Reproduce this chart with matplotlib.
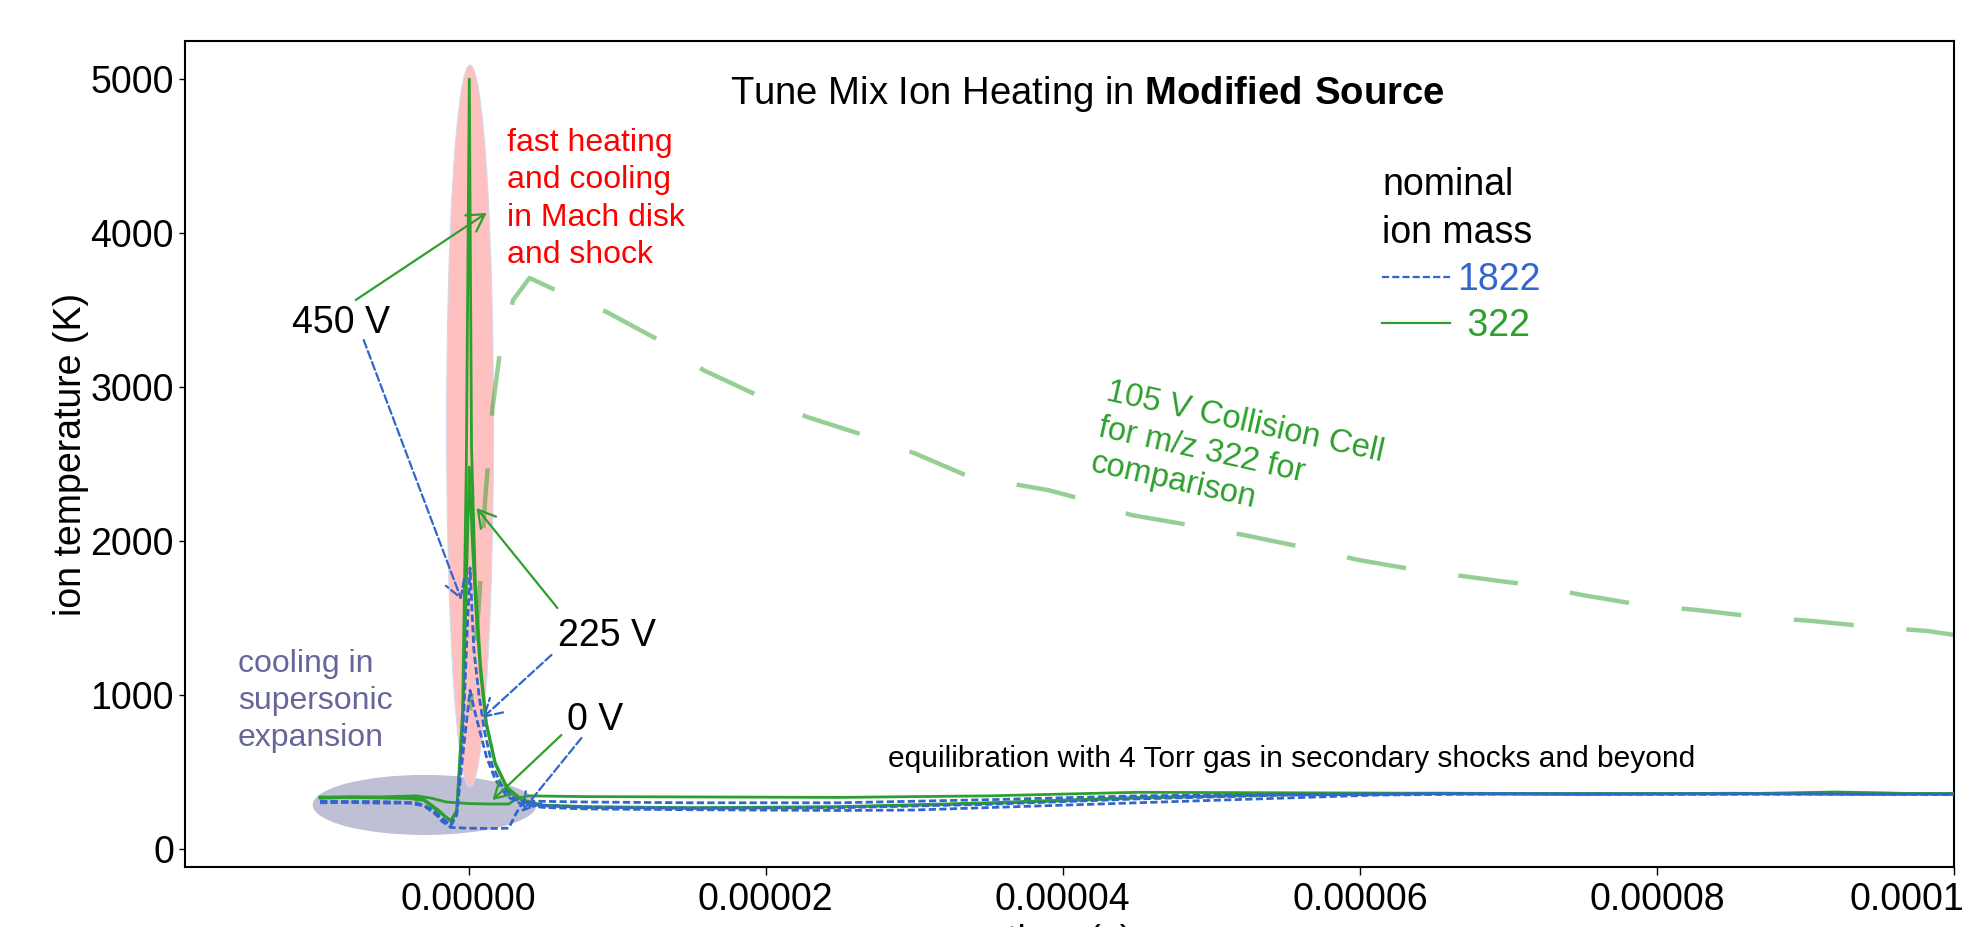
import matplotlib
matplotlib.use("Agg")
import matplotlib.pyplot as plt
import numpy as np
from matplotlib.patches import Ellipse
from matplotlib.lines import Line2D
from matplotlib.ticker import FuncFormatter
from matplotlib.transforms import ScaledTranslation

plt.rcParams['font.family'] = 'Liberation Sans'
plt.rcParams['mathtext.fontset'] = 'custom'
plt.rcParams['mathtext.rm'] = 'Liberation Sans'
plt.rcParams['mathtext.bf'] = 'Liberation Sans:bold'

GREEN = '#2ca02c'
BLUE = '#3366cc'

# time in microseconds, temperature in K
t_322_450 = [-10, -8, -6, -4, -3, -2, -1.2, -0.8, -0.4, -0.15, 0.05, 0.2, 0.45, 0.8, 1.2, 1.8, 2.6, 3.6, 5, 8, 15, 25, 35, 45, 55, 65, 75, 85, 95, 100]
T_322_450 = [330, 335, 332, 328, 315, 240, 185, 250, 900, 2500, 5000, 2600, 1750, 1200, 820, 560, 400, 320, 285, 275, 268, 275, 300, 335, 355, 362, 358, 360, 362, 358]

t_322_225 = [-10, -8, -6, -4, -3, -2, -1.2, -0.8, -0.4, -0.1, 0.05, 0.25, 0.5, 0.8, 1.2, 1.8, 2.6, 3.6, 5, 8, 15, 25, 35, 45, 55, 65, 75, 85, 95, 100]
T_322_225 = [338, 333, 336, 335, 322, 250, 180, 240, 800, 1900, 2480, 2000, 1550, 1150, 800, 550, 390, 315, 280, 270, 265, 272, 295, 330, 352, 360, 356, 362, 357, 360]

t_322_0 = [-10, -8, -6, -3.5, -2.5, -1.5, 0, 1.5, 2.7, 3.3, 4, 8, 15, 25, 35, 45, 55, 65, 75, 85, 92, 100]
T_322_0 = [335, 340, 338, 345, 330, 305, 295, 292, 292, 330, 345, 340, 338, 335, 345, 368, 365, 362, 360, 358, 370, 355]

t_1822_450 = [-10, -8, -6, -4, -3, -2, -1.2, -0.8, -0.4, -0.1, 0.1, 0.35, 0.7, 1.1, 1.6, 2.3, 3.2, 4.5, 8, 15, 25, 35, 45, 55, 65, 75, 85, 95, 100]
T_1822_450 = [305, 308, 303, 300, 285, 220, 155, 230, 700, 1400, 1825, 1300, 1000, 750, 540, 400, 320, 285, 272, 265, 268, 290, 325, 350, 358, 356, 358, 355, 357]

t_1822_225 = [-10, -8, -6, -4, -3, -2, -1.2, -0.8, -0.4, 0.1, 0.4, 0.8, 1.2, 1.8, 2.6, 3.6, 5, 8, 15, 25, 30, 36, 45, 55, 61, 70, 80, 90, 100]
T_1822_225 = [300, 302, 298, 298, 280, 210, 150, 220, 600, 1030, 900, 750, 600, 450, 340, 290, 270, 260, 255, 250, 253, 272, 300, 331, 350, 358, 355, 357, 354]

t_1822_0 = [-10, -8, -6, -3.5, -2.5, -1.8, -1.2, 0, 1.5, 2.7, 3.2, 3.6, 4.5, 8, 15, 25, 35, 45, 55, 65, 75, 85, 100]
T_1822_0 = [310, 306, 308, 300, 260, 180, 140, 135, 133, 135, 230, 300, 310, 305, 300, 300, 320, 345, 355, 360, 356, 358, 355]

# 105 V collision cell, m/z 322
t_cc = [0.1, 0.7, 1.1, 1.6, 2.1, 3.0, 4.1, 6.0, 9.3, 12.8, 15.8, 19.4, 22.8, 26.6, 30, 33.6, 39, 41, 44.6, 48.5, 52.2, 56.1, 59.9, 63.8, 67.4, 71.5, 75, 79, 82.7, 86.8, 90.4, 94.5, 98.2, 100]
T_cc = [900, 1600, 2250, 2850, 3220, 3565, 3708, 3623, 3487, 3305, 3110, 2948, 2805, 2688, 2571, 2422, 2331, 2280, 2169, 2104, 2039, 1961, 1877, 1812, 1766, 1714, 1649, 1584, 1552, 1506, 1481, 1442, 1416, 1390]

us = 1e-6

fig = plt.figure(figsize=(19.63, 9.27), dpi=100)
ax = fig.add_axes([185 / 1963, 60 / 927, 1769 / 1963, 826 / 927])

# shaded regions
ax.add_patch(Ellipse((-2.96 * us, 286), 15.06 * us, 390, facecolor='#bfc0d6', edgecolor='none', zorder=1))
ax.add_patch(Ellipse((0.1 * us, 2747), 3.16 * us, 4688, facecolor='#ffc0c0', edgecolor='#d3d9ea', lw=0.8, zorder=1.5))

dash_blue = (0, (2.6, 1.2))
ax.plot(np.array(t_cc) * us, T_cc, color=GREEN, alpha=0.5, lw=3.2, linestyle=(9.7, (13.5, 11.9)), zorder=2)
for t, T in [(t_322_0, T_322_0), (t_322_225, T_322_225), (t_322_450, T_322_450)]:
    ax.plot(np.array(t) * us, T, color=GREEN, lw=2, zorder=3)
for t, T in [(t_1822_0, T_1822_0), (t_1822_225, T_1822_225), (t_1822_450, T_1822_450)]:
    ax.plot(np.array(t) * us, T, color=BLUE, lw=2, linestyle=dash_blue, zorder=3)

ax.set_xlim(-19.09 * us, 100 * us)
ax.set_ylim(-117, 5247)
ax.set_xticks(np.arange(0, 101, 20) * us)
ax.set_yticks(np.arange(0, 5001, 1000))
ax.xaxis.set_major_formatter(FuncFormatter(lambda v, p: "{:.5f}".format(v)))
ax.tick_params(axis='both', labelsize=27, direction='out', width=1)
ax.tick_params(axis='x', length=6, pad=5)
ax.tick_params(axis='y', length=4, pad=4)
for s in ax.spines.values():
    s.set_linewidth(1.5)

# last x tick label sits a bit left of its tick in the original
last = ax.get_xticklabels()[-1]
last.set_transform(last.get_transform() + ScaledTranslation(-0.37, 0, fig.dpi_scale_trans))

ax.set_xlabel("time (s)", fontsize=27)
ax.xaxis.set_label_coords(0.5, -0.069)
ax.set_ylabel("ion temperature (K)", fontsize=27)
ax.yaxis.set_label_coords(-0.054, 0.5)

ax.text(0.51, 0.936, "Tune Mix Ion Heating in $\\mathbf{Modified\\ Source}$",
        transform=ax.transAxes, ha='center', va='center', fontsize=27.5)

ax.text(2.62 * us, 4680, "fast heating\nand cooling\nin Mach disk\nand shock", color='red',
        fontsize=23, ha='left', va='top', linespacing=1.31)
ax.text(-15.53 * us, 961, "cooling in\nsupersonic\nexpansion", color='#666699',
        fontsize=23, ha='left', va='center', linespacing=1.29)
ax.text(28.24 * us, 584, "equilibration with 4 Torr gas in secondary shocks and beyond",
        fontsize=21.5, ha='left', va='center')
ax.text(43.2 * us, 3065, "105 V Collision Cell\nfor m/z 322 for\ncomparison", color=GREEN,
        fontsize=23.5, ha='left', va='top', rotation=-12.5, rotation_mode='anchor', linespacing=1.22)

# voltage labels and arrows
ax.text(-11.9 * us, 3416, "450 V", fontsize=27, ha='left', va='center')
ax.text(6.0 * us, 1383, "225 V", fontsize=27, ha='left', va='center')
ax.text(6.6 * us, 838, "0 V", fontsize=27, ha='left', va='center')

arrows = [
    ((-7.6, 3565), (1.21, 4130), GREEN, '-'),
    ((-7.06, 3305), (-0.47, 1617), BLUE, '--'),
    ((5.98, 1565), (0.54, 2214), GREEN, '-'),
    ((5.58, 1260), (0.94, 851), BLUE, '--'),
    ((6.25, 740), (1.61, 318), GREEN, '-'),
    ((7.6, 721), (3.56, 240), BLUE, '--'),
]
for (x0, y0), (x1, y1), c, ls in arrows:
    ax.annotate("", xy=(x1 * us, y1), xytext=(x0 * us, y0),
                arrowprops=dict(arrowstyle='->,head_length=0.6,head_width=0.35', color=c, lw=1.6,
                                linestyle=ls, shrinkA=0, shrinkB=0, mutation_scale=20), zorder=4)

handles = [Line2D([], [], color=BLUE, lw=1.6, linestyle=(0, (3.2, 1.4))),
           Line2D([], [], color=GREEN, lw=1.6)]
leg = ax.legend(handles, ["1822", " 322"], title="nominal\nion mass", fontsize=27, title_fontsize=27,
                frameon=False, loc='upper left', bbox_to_anchor=(0.6767, 0.847), borderpad=0, borderaxespad=0,
                handlelength=1.8, handletextpad=0.2, labelspacing=0.28, alignment='left')
leg.get_title().set_linespacing(1.42)
leg.get_texts()[0].set_color(BLUE)
leg.get_texts()[1].set_color(GREEN)

fig.savefig("out.png", dpi=100)
